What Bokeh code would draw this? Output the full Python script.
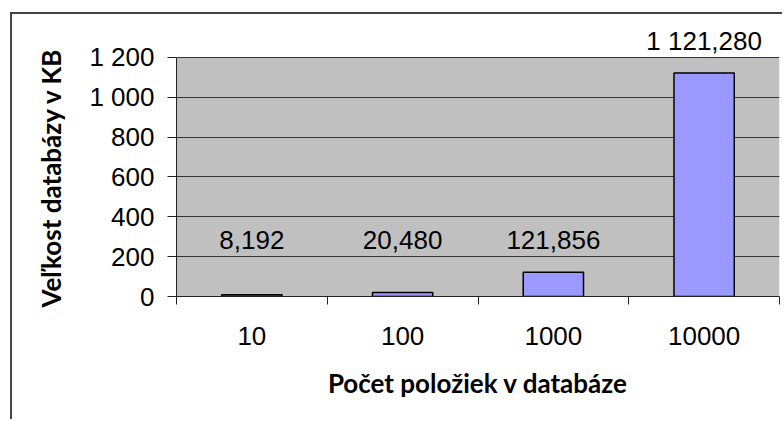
import numpy as np
from bokeh.plotting import figure
from bokeh.models import ColumnDataSource, FixedTicker, Range1d, BoxAnnotation, Title
from bokeh.core.properties import value
from bokeh.embed import file_html
from bokeh.resources import INLINE

categories = ["10", "100", "1000", "10000"]
sizes_kb = [8.192, 20.480, 121.856, 1121.280]
value_labels = ["8,192", "20,480", "121,856", "1 121,280"]
y_ticks = [0, 200, 400, 600, 800, 1000, 1200]
y_tick_labels = ["0", "200", "400", "600", "800", "1 000", "1 200"]
x_title = "Počet položiek v databáze"
y_title = "Veľkost databázy v KB"

n = len(categories)
xc = np.arange(n) + 0.5
vals = np.array(sizes_kb)
label_y = np.maximum(vals, vals[2])
y_max = y_ticks[-1]

src = ColumnDataSource(dict(x=xc, top=vals, lab=value_labels, ly=label_y))

W, H = 772, 407
p = figure(width=W, height=H, output_backend="svg", toolbar_location=None,
           x_range=Range1d(0, n), y_range=Range1d(0, 1385),
           min_border_left=163, min_border_right=5, min_border_top=6, min_border_bottom=125)
p.styles = {"border-left": "2px solid #454545", "border-top": "2px solid #454545",
            "margin-left": "10px", "margin-top": "12px"}
p.background_fill_color = "white"
p.border_fill_color = "white"
p.outline_line_color = None

# grey plot area (0 .. top tick)
p.add_layout(BoxAnnotation(bottom=0, top=y_max, fill_color="#C0C0C0", fill_alpha=1,
                           line_color=None, level="image"))

p.vbar(x="x", top="top", width=0.4, source=src, fill_color="#9999FF",
       line_color="black", line_width=1.5)
p.text(x="x", y="ly", text="lab", source=src, text_align="center", text_baseline="alphabetic",
       y_offset=-32, text_font=value("Liberation Sans"), text_font_size="26px", text_color="black")

# grids
p.xgrid.visible = False
p.ygrid.grid_line_color = "#333333"
p.ygrid.grid_line_width = 1
p.ygrid.ticker = FixedTicker(ticks=y_ticks)

# y axis
ya = p.yaxis[0]
ya.bounds = (0, y_max)
ya.ticker = FixedTicker(ticks=y_ticks)
ya.major_label_overrides = {t: l for t, l in zip(y_ticks, y_tick_labels)}
ya.major_tick_out = 9
ya.major_tick_in = 0
ya.minor_tick_out = 0
ya.minor_tick_in = 0
ya.axis_line_color = "#222222"
ya.major_tick_line_color = "#222222"
ya.major_label_standoff = 13
ya.major_label_text_font = "Liberation Sans"
ya.major_label_text_font_size = "26px"
ya.major_label_text_color = "black"

p.add_layout(Title(text=y_title, align="left", offset=-11, text_font="Lato",
                   text_font_style="bold", text_font_size="26px", text_color="black",
                   standoff=40), "left")

# x axis
xa = p.xaxis[0]
xa.ticker = FixedTicker(ticks=list(xc), minor_ticks=list(range(n + 1)))
xa.major_label_overrides = {float(x): c for x, c in zip(xc, categories)}
xa.major_tick_out = 0
xa.major_tick_in = 0
xa.minor_tick_out = 8
xa.minor_tick_in = 0
xa.minor_tick_line_color = "#222222"
xa.axis_line_color = "#222222"
xa.major_label_standoff = 22
xa.major_label_text_font = "Liberation Sans"
xa.major_label_text_font_size = "26px"
xa.major_label_text_color = "black"
xa.axis_label = x_title
xa.axis_label_text_font = "Lato"
xa.axis_label_text_font_style = "bold"
xa.axis_label_text_font_size = "26px"
xa.axis_label_text_color = "black"
xa.axis_label_standoff = 19

open("out.html", "w").write(file_html(p, INLINE))
